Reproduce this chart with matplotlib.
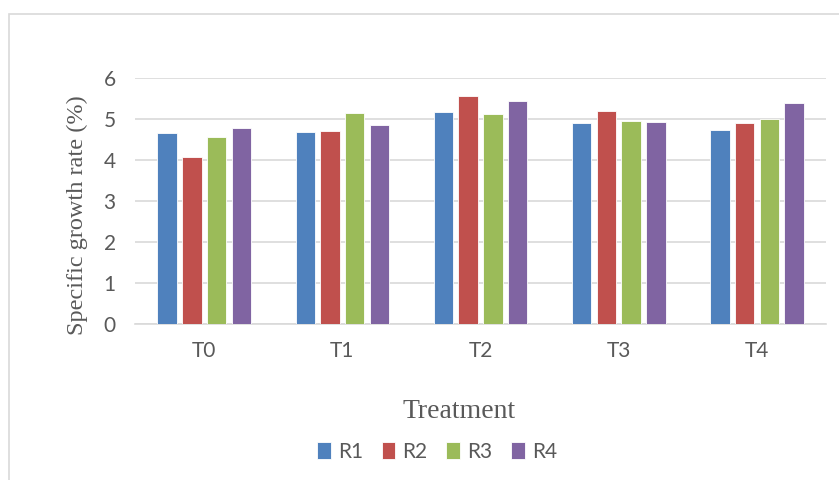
import matplotlib
matplotlib.use("Agg")
import matplotlib.pyplot as plt
import numpy as np
from matplotlib.patches import Rectangle

treatments = ["T0", "T1", "T2", "T3", "T4"]
series = ["R1", "R2", "R3", "R4"]
r1 = [4.65, 4.68, 5.17, 4.90, 4.74]
r2 = [4.08, 4.70, 5.55, 5.19, 4.91]
r3 = [4.56, 5.14, 5.12, 4.96, 5.00]
r4 = [4.78, 4.86, 5.44, 4.93, 5.38]
colors = ["#4F81BD", "#C0504D", "#9BBB59", "#8064A2"]

SANS = ["Lato", "DejaVu Sans"]
SERIF = ["Liberation Serif", "DejaVu Serif"]
GREY = "#595959"

fig = plt.figure(figsize=(8.39, 4.8), dpi=100)
ax = fig.add_axes([0.161, 0.325, 0.8235, 0.5125])

# chart frame (runs off the right and bottom edges like the source)
fig.patches.append(Rectangle((9 / 839, -0.05), 1.0, 1 - 14 / 480 + 0.05,
                             transform=fig.transFigure, fill=False,
                             edgecolor="#D9D9D9", lw=1.2))

x = np.arange(len(treatments))
pitch, width = 0.179, 0.141
for i, (vals, c, lab) in enumerate(zip([r1, r2, r3, r4], colors, series)):
    ax.bar(x + (i - 1.5) * pitch, vals, width, color=c, label=lab,
           edgecolor="white", linewidth=0.6, zorder=3)

ax.set_xlim(-0.5, len(treatments) - 0.5)
ax.set_ylim(0, 6)
ax.set_yticks(range(0, 7))
ax.yaxis.grid(True, color="#D9D9D9", lw=1.2, zorder=0)
ax.set_xticks(x)
ax.set_xticklabels(treatments)
for s in ["top", "right", "left"]:
    ax.spines[s].set_visible(False)
ax.spines["bottom"].set_color("#D9D9D9")
ax.spines["bottom"].set_linewidth(1.2)
ax.tick_params(length=0, labelsize=15, colors=GREY)
ax.tick_params(axis="x", pad=12)
ax.tick_params(axis="y", pad=14)
for t in ax.get_xticklabels() + ax.get_yticklabels():
    t.set_family(SANS)

fig.text(77 / 839, 1 - 215 / 480, "Specific growth rate (%)", family=SERIF,
         fontsize=17.5, color=GREY, rotation=90, ha="center", va="center")
fig.text(459 / 839, 1 - 411 / 480, "Treatment", family=SERIF, fontsize=20,
         color=GREY, ha="center", va="center")

leg = fig.legend(loc="center", bbox_to_anchor=(437 / 839, 1 - 452 / 480),
                 ncol=4, frameon=False, prop={"family": SANS, "size": 15},
                 handlelength=0.65, handleheight=0.85, handletextpad=0.35,
                 columnspacing=0.9)
for t in leg.get_texts():
    t.set_color(GREY)

fig.savefig("out.png", dpi=100)
